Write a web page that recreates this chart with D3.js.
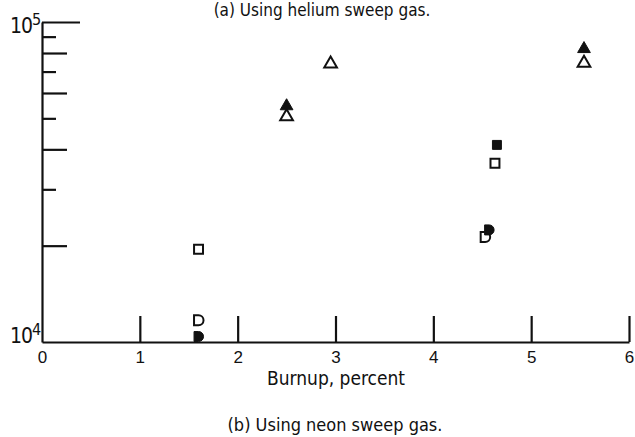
<!DOCTYPE html>
<html lang="en">
<head>
<meta charset="UTF-8">
<title>Burnup, neon sweep gas</title>
<script src="https://d3js.org/d3.v7.min.js"></script>
<style>
  body { margin: 0; background: #fff; }
  svg { display: block; font-family: "Liberation Sans Narrow", "DejaVu Sans Condensed", sans-serif; }
  .axis path, .axis line { stroke: #111; stroke-width: 2.2px; }
  .axis text { fill: #111; }
</style>
</head>
<body>
<svg width="635" height="437"></svg>
<script>
const openTriX = [2.5, 2.95, 5.54];
const openTriY = [51000, 74500, 75000];
const fillTriX = [2.5, 5.54];
const fillTriY = [55000, 83000];
const openSqX = [1.6, 4.63];
const openSqY = [19500, 36200];
const fillSqX = [4.65];
const fillSqY = [41300];
const openCircX = [1.6, 4.53];
const openCircY = [11700, 21300];
const fillCircX = [1.6, 4.57];
const fillCircY = [10400, 22400];

const xTicks = [0, 1, 2, 3, 4, 5, 6];
const xLabel = "Burnup, percent";
const topCaption = "(a) Using helium sweep gas.";
const caption = "(b) Using neon sweep gas.";

const svg = d3.select("svg");
const x = d3.scaleLinear().domain([0, 6]).range([42, 629]);
const y = d3.scaleLog().domain([1e4, 1e5]).range([342, 22]);

// y axis - ticks point inward, length depends on the mantissa
const yAxis = svg.append("g").attr("class", "axis")
  .attr("transform", "translate(42,0)")
  .call(d3.axisRight(y).tickFormat("").tickSizeOuter(0));
yAxis.selectAll(".tick line").attr("x2", d => {
  const m = Math.round(d / Math.pow(10, Math.floor(Math.log10(d) + 1e-9)));
  if (d >= 1e5) return 38;
  if (m === 1) return 0;
  return m % 2 === 0 ? 25 : 14;
});

// x axis, ticks pointing up, labels below
const xAxis = svg.append("g").attr("class", "axis")
  .attr("transform", "translate(0,342)")
  .call(d3.axisBottom(x).tickValues(xTicks).tickFormat(d3.format("d"))
    .tickSizeInner(-26).tickSizeOuter(0).tickPadding(9));
xAxis.selectAll(".tick line").filter(d => d === 0).remove();
xAxis.selectAll(".tick text").attr("font-size", 17).attr("font-family", null);

// decade labels on the y axis
const decades = [1e4, 1e5];
const dec = svg.selectAll(".dec").data(decades).enter().append("text")
  .attr("class", "dec")
  .attr("x", 10)
  .attr("y", d => y(d) + (d === 1e4 ? 1 : 11))
  .attr("font-size", 21)
  .attr("letter-spacing", -1)
  .attr("fill", "#111");
dec.append("tspan").text("10");
dec.append("tspan").attr("dy", -8).attr("font-size", 16)
  .text(d => Math.round(Math.log10(d)));

// axis title and captions
svg.append("text").attr("x", 336).attr("y", 385).attr("text-anchor", "middle")
  .attr("font-size", 19).attr("fill", "#111").text(xLabel);
svg.append("text").attr("x", 335).attr("y", 431).attr("text-anchor", "middle")
  .attr("font-size", 18).attr("fill", "#111").text(caption);
svg.append("text").attr("x", 322).attr("y", 16).attr("text-anchor", "middle")
  .attr("font-size", 17).attr("fill", "#111").text(topCaption);

// markers
const zip = (xs, ys) => xs.map((v, i) => [v, ys[i]]);
const tri = d3.symbol().type(d3.symbolTriangle).size(70)();
const sq = d3.symbol().type(d3.symbolSquare).size(80)();
const dShape = "M-4.5,-5 L0,-5 A5,5 0 0 1 0,5 L-4.5,5 Z";

function plot(data, path, filled, dy) {
  svg.append("g").selectAll("path").data(data).enter().append("path")
    .attr("d", path)
    .attr("transform", d => `translate(${x(d[0])},${y(d[1]) + (dy || 0)})`)
    .attr("fill", filled ? "#111" : "none")
    .attr("stroke", "#111")
    .attr("stroke-width", filled ? 1 : 2);
}

plot(zip(openTriX, openTriY), tri, false, 1);
plot(zip(fillTriX, fillTriY), tri, true, 1);
plot(zip(openSqX, openSqY), sq, false);
plot(zip(fillSqX, fillSqY), sq, true);
plot(zip(openCircX, openCircY), dShape, false);
plot(zip(fillCircX, fillCircY), dShape, true);
</script>
</body>
</html>
